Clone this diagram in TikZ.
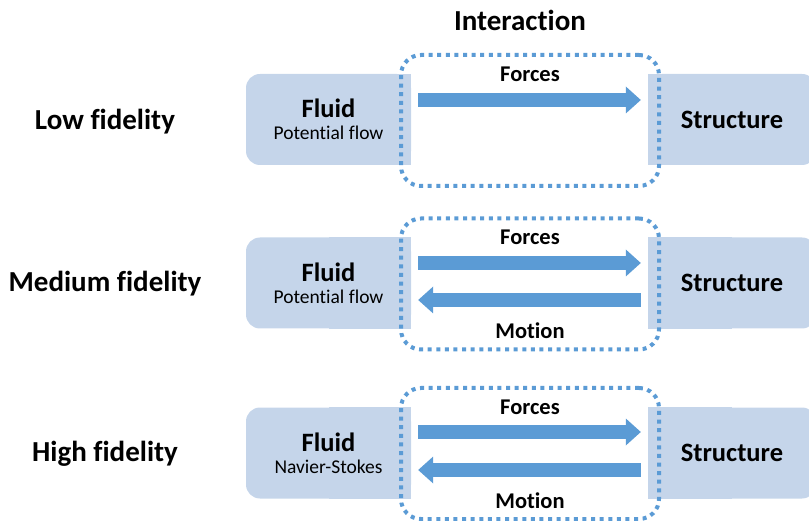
\documentclass[tikz,border=0pt]{standalone}
\usepackage{fontspec}
\setmainfont{Carlito}[Ligatures=NoCommon]
\usetikzlibrary{arrows.meta}
\usetikzlibrary{positioning}
\usetikzlibrary{backgrounds}

\definecolor{boxblue}{HTML}{C5D5EA}
\definecolor{linkblue}{HTML}{5B9BD5}

\newcommand{\modeltext}[1]{{\fontsize{19.5}{21}\selectfont\mdseries #1}}

\tikzset{
    side/.style={fill=boxblue,rounded corners=14pt,minimum width=165pt,minimum height=91pt,
                 inner sep=0pt,align=center,font=\fontsize{26.5}{27}\selectfont\bfseries},
    iface/.style={draw=linkblue,line width=4pt,dash pattern=on 4pt off 4.6pt,
                  rounded corners=20pt,minimum width=258pt,minimum height=131pt},
    flow/.style={draw=linkblue,line width=14pt,
                 -{Triangle[length=15pt,width=27pt,line width=0pt]},
                 shorten <=7pt,shorten >=7pt},
    level/.style={font=\fontsize{29}{32}\selectfont\bfseries},
    tag/.style={font=\fontsize{22.5}{24}\selectfont\bfseries}
}

\begin{document}
\begin{tikzpicture}[x=1pt,y=-1pt]

    \useasboundingbox (0,0) rectangle (809,521);
    %\draw [help lines,step=50] (0,0) grid (809,521);

    \node (title) [level] at (520,20) {Interaction};

    % fidelity levels
    \path   (105,122) node (low) [level] {Low fidelity}
            (105,284) node (med) [level] {Medium fidelity}
            (105,454) node (high) [level] {High fidelity};

    % fluid and structure blocks
    \path   (328.5,119.5) node (f1) [side] {Fluid\\[-5pt]\modeltext{Potential flow}}
            (732,119.5) node (s1) [side,minimum width=168pt] {Structure}
            (328.5,283) node (f2) [side] {Fluid\\[-5pt]\modeltext{Potential flow}}
            (732,283) node (s2) [side,minimum width=168pt] {Structure}
            (328.5,453) node (f3) [side] {Fluid\\[-5pt]\modeltext{Navier-Stokes}}
            (732,453) node (s3) [side,minimum width=168pt] {Structure};

    % square off the inner corners
    \begin{scope}[on background layer]
        \fill[boxblue] (f1.north) rectangle (f1.south east);
        \fill[boxblue] (f2.north) rectangle (f2.south east);
        \fill[boxblue] (f3.north) rectangle (f3.south east);
        \fill[boxblue] (s1.north west) rectangle (s1.south);
        \fill[boxblue] (s2.north west) rectangle (s2.south);
        \fill[boxblue] (s3.north west) rectangle (s3.south);
    \end{scope}

    % interaction boxes
    \path   (530,120.5) node (i1) [iface] {}
            (530,284) node (i2) [iface] {}
            (530,453.5) node (i3) [iface] {};

    \draw[flow] ([yshift=19.5pt]f1.east) -- ([yshift=19.5pt]s1.west);
    \draw[flow] ([yshift=20pt]f2.east) -- ([yshift=20pt]s2.west);
    \draw[flow] ([yshift=-17pt]s2.west) -- ([yshift=-17pt]f2.east);
    \draw[flow] ([yshift=21pt]f3.east) -- ([yshift=21pt]s3.west);
    \draw[flow] ([yshift=-17pt]s3.west) -- ([yshift=-17pt]f3.east);

    \node (forces1) [tag] at (i1 |- f1.north) {Forces};
    \node (forces2) [tag] at (i2 |- f2.north) {Forces};
    \node (motion2) [tag,yshift=-2pt] at (i2 |- f2.south) {Motion};
    \node (forces3) [tag] at (i3 |- f3.north) {Forces};
    \node (motion3) [tag,yshift=-2pt] at (i3 |- f3.south) {Motion};

\end{tikzpicture}
\end{document}
